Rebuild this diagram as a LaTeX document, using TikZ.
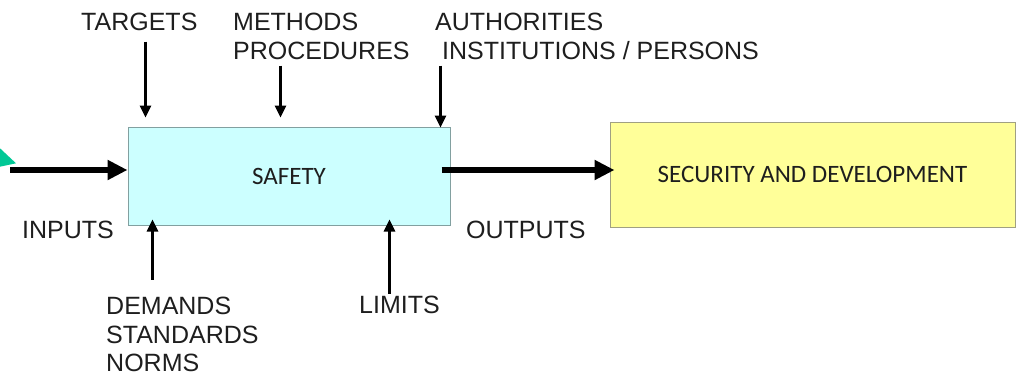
\documentclass[tikz,border=0pt]{standalone}
\usepackage{fontspec}
\setmainfont{Liberation Sans}
\newfontfamily\boxfont{Carlito}
\usetikzlibrary{arrows.meta,calc}
\definecolor{safetyfill}{RGB}{204,255,255}
\definecolor{safetyline}{RGB}{130,160,160}
\definecolor{resultfill}{RGB}{255,255,153}
\definecolor{resultline}{RGB}{160,160,130}
\definecolor{ink}{RGB}{30,30,30}
\definecolor{marker}{RGB}{0,200,150}
\begin{document}
\begin{tikzpicture}[x=1pt,y=-1pt,
  lbl/.style={font=\fontsize{25}{28.5}\selectfont, text=ink, inner sep=0pt, align=left},
  block/.style={draw, line width=1pt, inner sep=0pt, font=\boxfont\fontsize{25}{30}\selectfont, text=ink},
  flow/.style={line width=5.5pt, -{Triangle[length=20pt,width=19pt]}},
  ctrl/.style={line width=2.6pt, -{Triangle[length=12pt,width=11pt]}}]
\useasboundingbox (0,0) rectangle (1025,383);

% small corner marker
\fill[marker] (0,148.3) -- (16,163.3) -- (0,166.7) -- cycle;

% main blocks
\node[block, fill=safetyfill, draw=safetyline, minimum width=322pt, minimum height=98pt] (safety) at (289,176) {SAFETY};
\node[block, fill=resultfill, draw=resultline, minimum width=405pt, minimum height=105pt] (secdev) at (812.5,174.5) {SECURITY AND DEVELOPMENT};

% labels
\node[lbl, anchor=west] (targets) at (81,22) {TARGETS};
\node[lbl, anchor=north west] (methods) at (233,13) {METHODS\\PROCEDURES};
\node[lbl, anchor=north west] (authorities) at (435,13) {AUTHORITIES\\\hspace*{7pt}INSTITUTIONS / PERSONS};
\node[lbl, anchor=west] (inputs) at (22,230) {INPUTS};
\node[lbl, anchor=west] (outputs) at (466,230) {OUTPUTS};
\node[lbl, anchor=north west] (demands) at (106,297) {DEMANDS\\STANDARDS\\NORMS};
\node[lbl, anchor=west] (limits) at (359,305) {LIMITS};

% input and output flows
\coordinate (inStart) at (10,170);
\draw[flow] (inStart) -- (safety.west |- inStart);
\coordinate (outStart) at ($(safety.east)+(-9,-6)$);
\coordinate (outEnd) at ($(secdev.west)+(5,-4.5)$);
\draw[flow] (outStart) -- (outEnd);

% controls from above
\draw[ctrl] ($(safety.north west)+(18,-85)$) -- ($(safety.north west)+(18,-9)$);
\draw[ctrl] ($(safety.north west)+(153,-61)$) -- ($(safety.north west)+(153,-9)$);
\draw[ctrl] ($(safety.north west)+(313,-61)$) -- ($(safety.north west)+(313,1)$);

% constraints from below
\draw[ctrl] ($(safety.south west)+(25,54)$) -- ($(safety.south west)+(25,-6)$);
\draw[ctrl] ($(safety.south west)+(262,68)$) -- ($(safety.south west)+(262,-6)$);
\end{tikzpicture}
\end{document}
